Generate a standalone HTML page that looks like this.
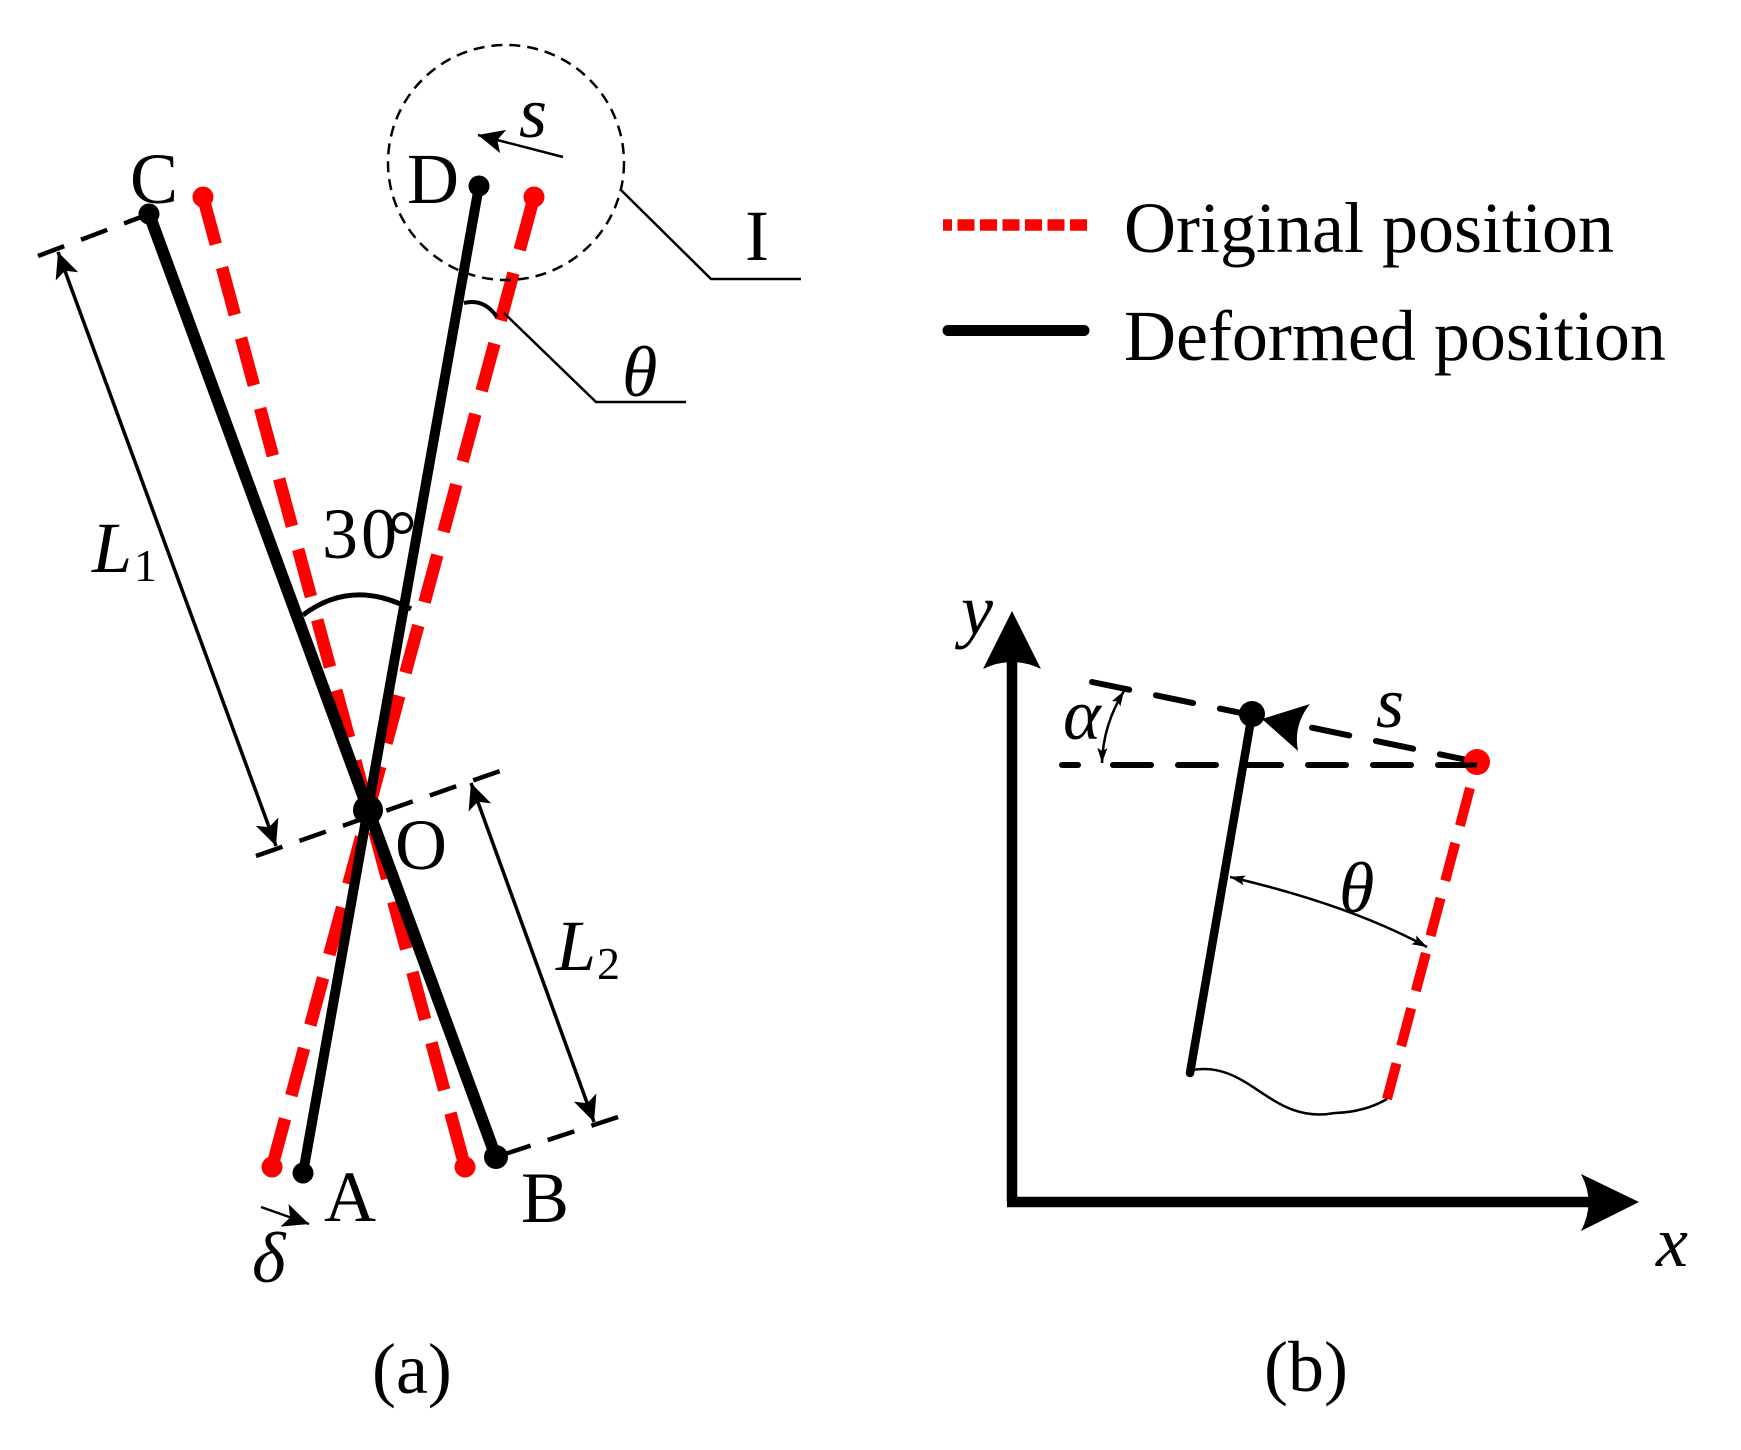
<!DOCTYPE html>
<html>
<head>
<meta charset="utf-8">
<style>
html,body{margin:0;padding:0;background:#fff;width:1741px;height:1450px;overflow:hidden}
svg{display:block}
text{font-family:"Liberation Serif",serif;font-size:72px;fill:#000}
.i{font-style:italic}
</style>
</head>
<body>
<svg width="1741" height="1450" viewBox="0 0 1741 1450" xmlns="http://www.w3.org/2000/svg">
<defs>
<marker id="a" markerUnits="userSpaceOnUse" markerWidth="32" markerHeight="26" refX="26" refY="12" orient="auto-start-reverse"><path d="M26,12 L0,0 L6,12 L0,24Z" fill="#000"/></marker>
<marker id="t" markerUnits="userSpaceOnUse" markerWidth="18" markerHeight="12" refX="15" refY="5" orient="auto-start-reverse"><path d="M15,5 L0,0 L3,5 L0,10Z" fill="#000"/></marker>
</defs>

<!-- red dashed original -->
<g stroke="#f00" stroke-width="12.5" fill="none">
<line x1="203" y1="197" x2="465" y2="1167" stroke-dasharray="49 24"/>
<line x1="534" y1="197" x2="272" y2="1167" stroke-dasharray="49 24" stroke-dashoffset="-5.8"/>
</g>
<g fill="#f00">
<circle cx="203" cy="197" r="10.5"/><circle cx="534" cy="197" r="10.5"/>
<circle cx="272" cy="1167" r="10.5"/><circle cx="465" cy="1167" r="10.5"/>
</g>

<!-- black deformed -->
<line x1="149" y1="214" x2="496" y2="1157" stroke="#000" stroke-width="12"/>
<line x1="479" y1="186" x2="303" y2="1173" stroke="#000" stroke-width="10"/>
<g fill="#000">
<circle cx="149" cy="214" r="10.5"/><circle cx="479" cy="186" r="10.5"/>
<circle cx="303" cy="1173" r="10.5"/><circle cx="496" cy="1157" r="12"/>
<circle cx="368" cy="810" r="15"/>
</g>

<!-- dashed extension lines -->
<g stroke="#000" stroke-width="4.5" fill="none" stroke-dasharray="28 18">
<line x1="38" y1="256" x2="149" y2="214"/>
<line x1="256" y1="856" x2="503" y2="770"/>
<line x1="618" y1="1117" x2="496" y2="1157"/>
</g>

<!-- dashed circle -->
<ellipse cx="506" cy="162.5" rx="118" ry="117.5" fill="none" stroke="#000" stroke-width="2.5" stroke-dasharray="11 7"/>

<!-- dimension arrows -->
<g stroke="#000" fill="none">
<line x1="58" y1="252" x2="276" y2="846" stroke-width="3.5" marker-start="url(#a)" marker-end="url(#a)"/>
<line x1="471" y1="783" x2="594" y2="1122" stroke-width="3.5" marker-start="url(#a)" marker-end="url(#a)"/>
<line x1="563" y1="157" x2="478" y2="135" stroke-width="2.5" marker-end="url(#a)"/>
<line x1="261" y1="1207" x2="309" y2="1224" stroke-width="2.5" marker-end="url(#a)"/>
<polyline points="621,190 711,279 801,279" stroke-width="2.5"/>
<polyline points="504,313 596,402 686,402" stroke-width="2.5"/>
<path d="M464 303 Q484 298 497 317" stroke-width="4"/>
<path d="M303 615 Q352 578 411 609" stroke-width="5"/>
</g>

<!-- labels a -->
<text x="130" y="203">C</text>
<text x="407" y="203">D</text>
<text x="745" y="260">I</text>
<text class="i" x="519" y="137">s</text>
<text class="i" x="622" y="396">θ</text>
<text class="i" x="92" y="572">L</text>
<text x="134" y="581" style="font-size:46px">1</text>
<text x="322" y="558">3</text>
<text x="361" y="558">0</text>
<text x="388" y="560">°</text>
<text x="395" y="869">O</text>
<text x="324" y="1221">A</text>
<text x="521" y="1222">B</text>
<text class="i" x="556" y="970">L</text>
<text x="597" y="979" style="font-size:46px">2</text>
<text class="i" x="252" y="1282">δ</text>
<text x="372" y="1393">(a)</text>

<!-- legend -->
<line x1="943" y1="225" x2="1088" y2="225" stroke="#f00" stroke-width="11.5" stroke-dasharray="17 5.5" stroke-dashoffset="8"/>
<line x1="948" y1="330.5" x2="1084" y2="330.5" stroke="#000" stroke-width="11" stroke-linecap="round"/>
<text x="1124" y="252">Original position</text>
<text x="1124" y="360">Deformed position</text>

<!-- panel b axes -->
<path d="M1012 1202 V650 M1007 1202 H1600" stroke="#000" stroke-width="10.5" fill="none"/>
<path d="M1012 611 L983 669 Q1012 655 1041 669Z" fill="#000"/>
<path d="M1639 1202 L1581 1174 Q1596 1202 1581 1231Z" fill="#000"/>

<!-- panel b dashed -->
<g stroke="#000" stroke-width="6" fill="none" stroke-linecap="round">
<line x1="1062" y1="765" x2="1078" y2="765"/>
<line x1="1113" y1="765" x2="1477" y2="765" stroke-dasharray="38 27"/>
<line x1="1092" y1="682" x2="1258" y2="716.5" stroke-dasharray="38 27.3"/>
<line x1="1312" y1="727.7" x2="1477" y2="762" stroke-dasharray="38 27.3"/>
</g>

<line x1="1470" y1="788" x2="1387" y2="1099" stroke="#f00" stroke-width="10" stroke-dasharray="39 18"/>
<circle cx="1477" cy="762" r="13" fill="#f00"/>
<line x1="1440" y1="765" x2="1477" y2="765" stroke="#000" stroke-width="5"/>
<line x1="1252" y1="714" x2="1190" y2="1073" stroke="#000" stroke-width="8.5" stroke-linecap="round"/>
<circle cx="1252" cy="714" r="13" fill="#000"/>
<path d="M1262 719 L1310 704 Q1293 725 1298 751Z" fill="#000"/>

<!-- wave and arcs -->
<path d="M1192 1070 C1250 1060 1270 1125 1335 1113 Q1365 1112 1387 1099" stroke="#000" stroke-width="2.5" fill="none"/>
<path d="M1230 877 Q1350 905 1427 947" stroke="#000" stroke-width="2.5" fill="none" marker-start="url(#t)" marker-end="url(#t)"/>
<path d="M1124 691 Q1103 725 1102 763" stroke="#000" stroke-width="2.5" fill="none" marker-start="url(#t)" marker-end="url(#t)"/>

<!-- labels b -->
<text class="i" x="961" y="634">y</text>
<text class="i" x="1656" y="1266">x</text>
<text class="i" x="1376" y="727">s</text>
<text class="i" x="1339" y="912">θ</text>
<text class="i" x="1063" y="739">α</text>
<text x="1264" y="1391">(b)</text>
</svg>
</body>
</html>
